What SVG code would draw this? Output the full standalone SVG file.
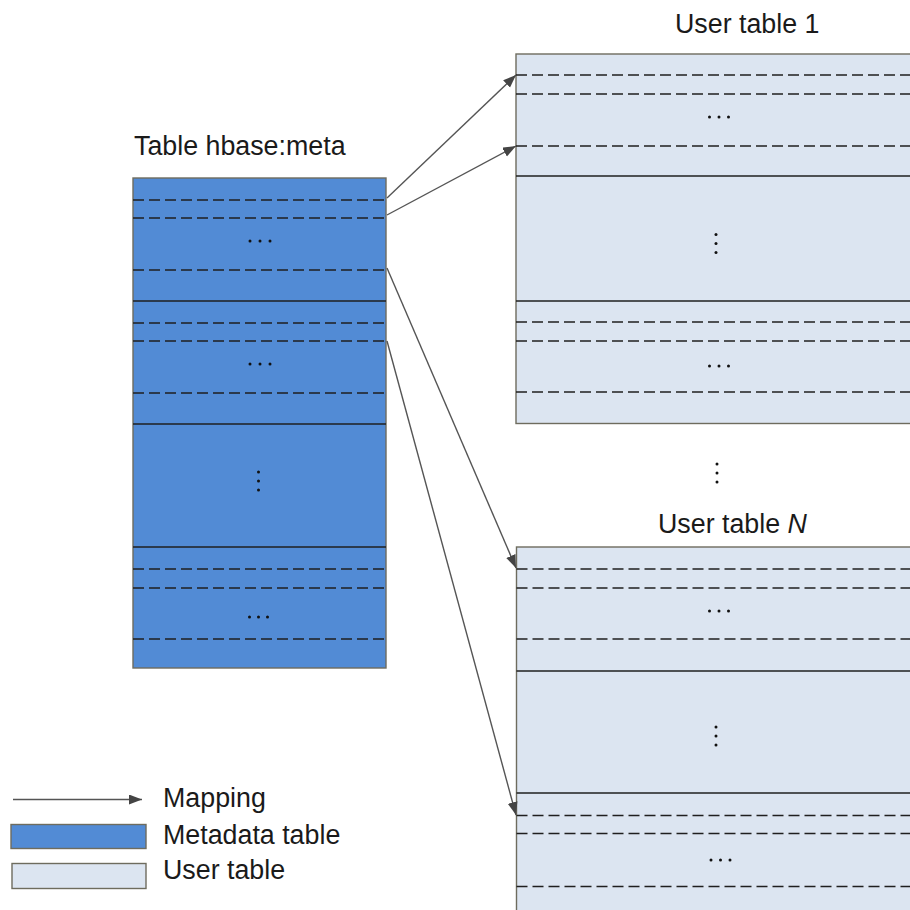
<svg xmlns="http://www.w3.org/2000/svg" width="910" height="910" viewBox="0 0 910 910">
<defs>
<style>
.lbl{font-family:"Liberation Sans",Arial,sans-serif;font-size:26.8px;fill:#1a1a1a}
.meta{fill:#528bd5;stroke:#6e6c5e;stroke-width:1.4}
.user{fill:#dce5f1;stroke:#6e6c5e;stroke-width:1.4}
.sol{stroke:#1f1f1f;stroke-width:1.5}
.dash{stroke:#1f1f1f;stroke-width:1.5;stroke-dasharray:11 5}
.dot{fill:#111}
.conn{stroke:#555;stroke-width:1.4;fill:none}
</style>
<marker id="ah" markerUnits="userSpaceOnUse" markerWidth="14" markerHeight="12" refX="13" refY="5" orient="auto">
<path d="M0,0 L13,5 L0,10 Z" fill="#444"/>
</marker>
</defs>
<rect width="910" height="910" fill="#fff"/>

<g id="meta-table">
<text class="lbl" x="134" y="155">Table hbase:meta</text>
<rect class="meta" x="133" y="178" width="253" height="490"/>
<line class="dash" x1="133" y1="200" x2="386" y2="200"/>
<line class="dash" x1="133" y1="218" x2="386" y2="218"/>
<line class="dash" x1="133" y1="270" x2="386" y2="270"/>
<circle class="dot" cx="250" cy="241" r="1.5"/><circle class="dot" cx="260" cy="241" r="1.5"/><circle class="dot" cx="270" cy="241" r="1.5"/>
<line class="sol" x1="133" y1="301" x2="386" y2="301"/>
<line class="dash" x1="133" y1="323" x2="386" y2="323"/>
<line class="dash" x1="133" y1="341" x2="386" y2="341"/>
<line class="dash" x1="133" y1="393" x2="386" y2="393"/>
<circle class="dot" cx="250" cy="364" r="1.5"/><circle class="dot" cx="260" cy="364" r="1.5"/><circle class="dot" cx="270" cy="364" r="1.5"/>
<line class="sol" x1="133" y1="424" x2="386" y2="424"/>
<circle class="dot" cx="258.5" cy="472" r="1.5"/><circle class="dot" cx="258.5" cy="481" r="1.5"/><circle class="dot" cx="258.5" cy="490" r="1.5"/>
<line class="sol" x1="133" y1="547" x2="386" y2="547"/>
<line class="dash" x1="133" y1="569" x2="386" y2="569"/>
<line class="dash" x1="133" y1="588" x2="386" y2="588"/>
<line class="dash" x1="133" y1="639" x2="386" y2="639"/>
<circle class="dot" cx="249.5" cy="617" r="1.5"/><circle class="dot" cx="258.5" cy="617" r="1.5"/><circle class="dot" cx="267.5" cy="617" r="1.5"/>
</g>

<g id="user-table-1">
<text class="lbl" x="675" y="33">User table 1</text>
<rect class="user" x="516" y="54" width="410" height="369.5"/>
<line class="dash" x1="516" y1="75" x2="920" y2="75"/>
<line class="dash" x1="516" y1="94" x2="920" y2="94"/>
<line class="dash" x1="516" y1="146" x2="920" y2="146"/>
<circle class="dot" cx="709.5" cy="117" r="1.5"/><circle class="dot" cx="719" cy="117" r="1.5"/><circle class="dot" cx="728.5" cy="117" r="1.5"/>
<line class="sol" x1="516" y1="176" x2="920" y2="176"/>
<circle class="dot" cx="716" cy="234.5" r="1.5"/><circle class="dot" cx="716" cy="243.5" r="1.5"/><circle class="dot" cx="716" cy="252.5" r="1.5"/>
<line class="sol" x1="516" y1="301" x2="920" y2="301"/>
<line class="dash" x1="516" y1="322" x2="920" y2="322"/>
<line class="dash" x1="516" y1="341" x2="920" y2="341"/>
<line class="dash" x1="516" y1="392" x2="920" y2="392"/>
<circle class="dot" cx="709.5" cy="366" r="1.5"/><circle class="dot" cx="719" cy="366" r="1.5"/><circle class="dot" cx="728.5" cy="366" r="1.5"/>
</g>

<g id="between-dots">
<circle class="dot" cx="717" cy="464" r="1.5"/><circle class="dot" cx="717" cy="473" r="1.5"/><circle class="dot" cx="717" cy="482" r="1.5"/>
</g>

<g id="user-table-n">
<text class="lbl" x="658" y="533">User table <tspan font-style="italic">N</tspan></text>
<rect class="user" x="516.5" y="547" width="410" height="380"/>
<line class="dash" x1="516.5" y1="569" x2="920" y2="569"/>
<line class="dash" x1="516.5" y1="588" x2="920" y2="588"/>
<line class="dash" x1="516.5" y1="639" x2="920" y2="639"/>
<circle class="dot" cx="709.5" cy="611" r="1.5"/><circle class="dot" cx="719" cy="611" r="1.5"/><circle class="dot" cx="728.5" cy="611" r="1.5"/>
<line class="sol" x1="516.5" y1="671" x2="920" y2="671"/>
<circle class="dot" cx="716" cy="727" r="1.5"/><circle class="dot" cx="716" cy="736" r="1.5"/><circle class="dot" cx="716" cy="745" r="1.5"/>
<line class="sol" x1="516.5" y1="793" x2="920" y2="793"/>
<line class="dash" x1="516.5" y1="815.5" x2="920" y2="815.5"/>
<line class="dash" x1="516.5" y1="833.5" x2="920" y2="833.5"/>
<line class="dash" x1="516.5" y1="886.5" x2="920" y2="886.5"/>
<circle class="dot" cx="711" cy="860" r="1.5"/><circle class="dot" cx="720.5" cy="860" r="1.5"/><circle class="dot" cx="730" cy="860" r="1.5"/>
</g>

<g id="connectors">
<line class="conn" x1="387" y1="198" x2="516" y2="75" marker-end="url(#ah)"/>
<line class="conn" x1="387" y1="215" x2="516" y2="146" marker-end="url(#ah)"/>
<line class="conn" x1="387" y1="268" x2="516" y2="568" marker-end="url(#ah)"/>
<line class="conn" x1="387" y1="341" x2="516" y2="815" marker-end="url(#ah)"/>
</g>

<g id="legend">
<line class="conn" x1="13" y1="799.5" x2="142" y2="799.5" marker-end="url(#ah)"/>
<text class="lbl" x="163" y="807">Mapping</text>
<rect class="meta" x="11" y="824.5" width="135" height="24"/>
<text class="lbl" x="163" y="844">Metadata table</text>
<rect class="user" x="12" y="863.5" width="134" height="25"/>
<text class="lbl" x="163" y="879">User table</text>
</g>
</svg>
